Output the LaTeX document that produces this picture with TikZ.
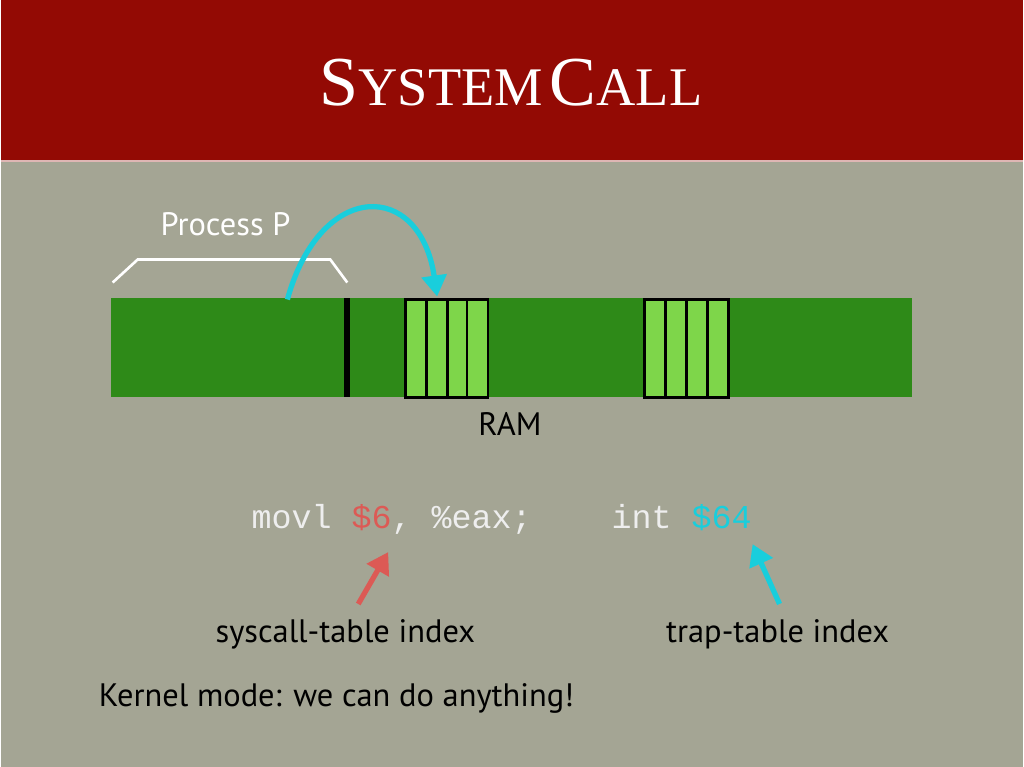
\documentclass[tikz,border=0pt]{standalone}
\usepackage{fontspec}
\setmainfont{PT Sans}
\setmonofont{Liberation Mono}
\newfontfamily\titlefont{Liberation Serif}
\usetikzlibrary{arrows.meta}
\definecolor{titlered}{HTML}{930A04}
\definecolor{slidebg}{HTML}{A4A594}
\definecolor{ramgreen}{HTML}{2E8A18}
\definecolor{cellgreen}{HTML}{7ED64A}
\definecolor{arccyan}{HTML}{19CEDC}
\definecolor{idxred}{HTML}{DC5A55}
\definecolor{codegray}{HTML}{EEEEEE}
\tikzset{
  cell/.style={draw=black,line width=1.6pt,fill=cellgreen},
  label/.style={font=\fontsize{18.5}{22}\selectfont,text=black},
  pointer/.style={line width=3pt,-{Triangle[length=12pt,width=14pt]}}
}
\newcommand{\bigsc}[2]{{\fontsize{40}{44}\selectfont #1}{\fontsize{31}{36}\selectfont #2}}
\begin{document}
\begin{tikzpicture}[x=0.02cm,y=-0.02cm]
        \fill[slidebg] (0,0) rectangle (1024,768);
        \fill[titlered] (0,0) rectangle (1024,160);
        \draw[white!70!titlered,line width=1pt] (0,161) -- (1024,161);
        \node[text=white,font=\titlefont] (title) at (511,83) {\bigsc{S}{YSTEM}\hspace{0.4em}\bigsc{C}{ALL}};
        % RAM strip
        \fill[ramgreen] (110,299) rectangle (913,398);
        \draw[black,line width=3.5pt] (347,299) -- (347,398);
        \foreach \x in {405,426,447,467} \draw[cell] (\x,300) rectangle ++(21,98);
        \foreach \x in {645,666,687,708} \draw[cell] (\x,300) rectangle ++(21,98);
        \node[label] (ram) at (510,425) {RAM};
        % process P
        \node[label,text=white] (proc) at (225,225) {Process P};
        \draw[white,line width=1.5pt] (112,283) -- (137,260) -- (330,260) -- (347,283);
        \coordinate (jfrom) at (287,300);
        \coordinate (jto) at (437,297);
        \draw[arccyan,pointer] (jfrom) .. controls (320,180) and (420,180) .. (jto);
        % instructions
        \node[font=\ttfamily\fontsize{19}{22}\selectfont,text=codegray,anchor=west] (code) at (245,520)
          {movl \textcolor{idxred}{\$6}, \%eax;~~~ int \textcolor{arccyan}{\$64}};
        \node[label] (sys) at (345,635) {syscall-table index};
        \node[label] (trap) at (778,635) {trap-table index};
        \node[label,anchor=west] (kern) at (92,700) {Kernel mode: we can do anything!};
        \coordinate (six) at (388,553);
        \coordinate (sixty) at (753,545);
        \draw[idxred,pointer] (358,605) -- (six);
        \draw[arccyan,pointer] (780,605) -- (sixty);
    \end{tikzpicture}
\end{document}
